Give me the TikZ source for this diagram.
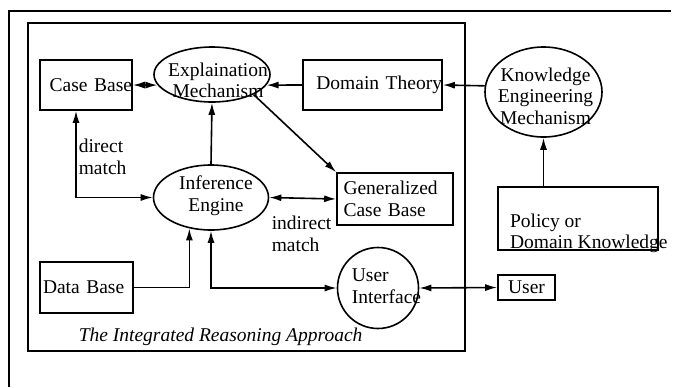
\documentclass[tikz,border=0pt]{standalone}
\usepackage{fontspec}
\setmainfont{Liberation Serif}
\usetikzlibrary{arrows,arrows.meta,shapes}
\tikzstyle{block} = [rectangle,draw,inner sep=0pt]
\tikzstyle{oval} = [ellipse,draw,inner sep=0pt]
\tikzstyle{inside} = [align=center,inner sep=0pt]
\tikzstyle{note} = [align=left,inner sep=0pt,anchor=west]
\tikzstyle{line} = [-{Latex[length=6pt,width=3.5pt]}]
\tikzstyle{dline} = [{Latex[length=6pt,width=3.5pt]}-{Latex[length=6pt,width=3.5pt]}]

\begin{document}
\begin{tikzpicture}[x=0.5pt,y=-0.5pt,thick,font=\fontsize{9.75}{10.8}\selectfont]
        \useasboundingbox (0,0) rectangle (676,387);
        % frames
        \draw[line width=1.3pt] (9,387) -- (9,11) -- (671,11);
        \draw[line width=1pt] (28,23) rectangle (465,351);
        \node[anchor=base west,inner sep=0pt] (title) at (78,341) {\itshape The Integrated Reasoning Approach};
        % inside the reasoning box
        \node[block,text width=46pt,minimum height=25pt,align=right] (casebase) at (86,85) {Case Base};
        \node[oval,minimum width=58pt,minimum height=27.5pt,label={[inside,xshift=3pt,yshift=-3pt]center:Explaination\\Mechanism}] (explain) at (212,74.5) {};
        \node[block,text width=69.5pt,minimum height=25pt,align=right] (domain) at (372.5,85) {Domain Theory};
        \node[oval,minimum width=57.5pt,minimum height=32.5pt,label={[inside,xshift=2.5pt,yshift=1pt]center:Inference\\Engine}] (ie) at (211,197.5) {};
        \node[block,text width=51.5pt,inner xsep=3.25pt,minimum height=26pt,align=left] (gcb) at (395,199) {Generalized\\Case Base};
        \node[block,text width=43.5pt,inner xsep=1.5pt,minimum height=25.5pt,align=left] (database) at (86.5,287.5) {Data Base};
        \node[circle,draw,inner sep=0pt,minimum size=40.5pt,label={[inside,align=left,xshift=4.25pt,yshift=1pt]center:User\\Interface}] (ui) at (378,288) {};
        % outside
        \node[oval,minimum width=58.5pt,minimum height=45pt,label={[inside,xshift=1pt,yshift=-2pt]center:Knowledge\\Engineering\\Mechanism}] (kem) at (543.5,92) {};
        \node[block,minimum width=80pt,minimum height=31.5pt,label={[inside,align=left,anchor=base west,xshift=6pt,yshift=1pt]south west:Policy or\\Domain Knowledge}] (policy) at (578,218.5) {};
        \node[block,minimum width=28.5pt,minimum height=12.5pt] (user) at (526.5,287.5) {User};
        % match labels
        \node[note] (directlbl) at (78,157) {direct\\match};
        \node[note] (indirectlbl) at (271,234) {indirect\\match};
        % connectors
        \draw[dline] (casebase.east) -- (explain.191);
        \draw[line] (domain.west) -- (explain.-11);
        \draw[line] (kem.174) -- (domain.east);
        \draw[line] (policy.north -| kem.south) -- (kem.south);
        \draw[line] (explain.south east) -- (gcb.north west);
        \draw[line] (ie.north) -- (explain.south);
        \draw[dline] ([xshift=-5pt]casebase.south) |- (ie.west);
        \draw[dline] (ie.east) -- (gcb.west);
        \draw[line] (database.east) -| (ie.235);
        \draw[dline] (ie.south) |- (ui.west);
        \draw[dline] (ui.east) -- (user.west);
\end{tikzpicture}
\end{document}
